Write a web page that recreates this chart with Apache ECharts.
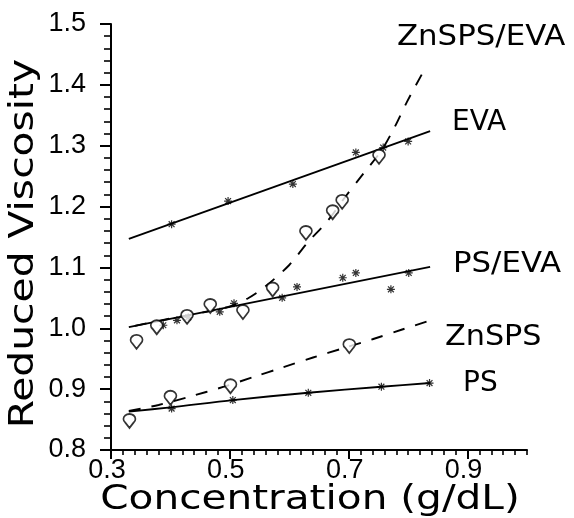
<!DOCTYPE html>
<html>
<head>
<meta charset="utf-8">
<script src="https://cdn.jsdelivr.net/npm/echarts@6/dist/echarts.min.js"></script>
<style>
html,body{margin:0;padding:0;background:#fff;}
#chart{width:574px;height:518px;}
</style>
</head>
<body>
<div id="chart"></div>
<script>
// ---- data ----
const xTickLabels = [0.3, 0.5, 0.7, 0.9];
const yTickLabels = [0.8, 0.9, 1.0, 1.1, 1.2, 1.3, 1.4, 1.5];

const evaPoints = [[0.402,1.171],[0.497,1.209],[0.606,1.237],[0.712,1.289],[0.758,1.297],[0.800,1.307]];
const evaFit = [[0.33,1.147],[0.837,1.324]];

const psevaPoints = [[0.388,1.005],[0.411,1.013],[0.430,1.018],[0.483,1.027],[0.507,1.041],[0.588,1.050],[0.613,1.068],[0.690,1.083],[0.712,1.091],[0.771,1.064],[0.801,1.091]];
const psevaFit = [[0.33,1.002],[0.837,1.101]];

const znspsevaPoints = [[0.343,0.981],[0.377,1.005],[0.428,1.022],[0.467,1.040],[0.522,1.030],[0.572,1.067],[0.628,1.160],[0.673,1.194],[0.689,1.211],[0.751,1.285]];
const znspsevaFit = [[0.34,1.004],[0.40,1.016],[0.45,1.025],[0.50,1.036],[0.53,1.049],[0.56,1.069],[0.60,1.104],[0.63,1.140],[0.665,1.177],[0.695,1.217],[0.723,1.252],[0.755,1.292],[0.777,1.330],[0.798,1.372],[0.828,1.426]];

const znspsPoints = [[0.331,0.851],[0.400,0.889],[0.501,0.908],[0.701,0.974]];
const znspsFit = [[0.33,0.864],[0.38,0.874],[0.43,0.887],[0.49,0.904],[0.54,0.920],[0.59,0.936],[0.64,0.952],[0.69,0.967],[0.74,0.982],[0.79,0.998],[0.837,1.013]];

const psPoints = [[0.402,0.868],[0.505,0.882],[0.632,0.894],[0.755,0.904],[0.836,0.910]];
const psFit = [[0.33,0.863],[0.40,0.870],[0.505,0.882],[0.632,0.894],[0.755,0.904],[0.837,0.910]];

const seriesNames = ['ZnSPS/EVA','EVA','PS/EVA','ZnSPS','PS'];

// ---- styling ----
const STAR = 'path://M-5,-0.75L5,-0.75L5,0.75L-5,0.75Z M-0.75,-5L0.75,-5L0.75,5L-0.75,5Z M-4.2,-3.1L-3.1,-4.2L4.2,3.1L3.1,4.2Z M3.1,-4.2L4.2,-3.1L-3.1,4.2L-4.2,3.1Z';
const PIN = 'path://M0,9L-3.5,3.6A5,5 0 1 1 3.5,3.6Z';
const numFont = 'Liberation Sans';
const txtFont = '"DejaVu Sans"';

function fitLine(name, data, dashed){
  return {type:'line', name:name, data:data, showSymbol:false, smooth:data.length>2 ? 0.3 : false,
    xAxisIndex:0, yAxisIndex:0, silent:true, z:2,
    lineStyle:{color:'#000', width:1.9, type: dashed ? [12,11] : 'solid'}};
}
function stars(name, data){
  return {type:'scatter', name:name, data:data, symbol:STAR, symbolSize:8, z:4,
    itemStyle:{color:'#000'}};
}
function pins(name, data){
  return {type:'scatter', name:name, data:data, symbol:PIN, symbolSize:[12,14], symbolOffset:[0,2], z:5,
    itemStyle:{color:'#fff', borderColor:'#000', borderWidth:1.8}};
}

const chart = echarts.init(document.getElementById('chart'), null, {renderer:'canvas'});
const option = {
  animation:false,
  backgroundColor:'#fff',
  grid:{left:111, right:47, top:24, bottom:68},
  xAxis:[{
    type:'value', min:0.3, max:1.0, interval:0.2,
    axisLine:{show:true, lineStyle:{color:'#000', width:2}},
    axisTick:{show:true, inside:false, length:9, lineStyle:{color:'#000', width:2}},
    axisLabel:{color:'#000', fontFamily:numFont, fontSize:27, margin:7, showMaxLabel:false,
      padding:[0,8,0,0],
      formatter:function(v){ return xTickLabels.some(t=>Math.abs(t-v)<1e-6) ? v.toFixed(1) : ''; }},
    splitLine:{show:false}
  },{
    type:'value', min:0.3, max:1.0, interval:0.02, gridIndex:0, position:'bottom',
    axisLine:{show:false},
    axisTick:{show:true, length:5, lineStyle:{color:'#000', width:1.6}},
    axisLabel:{show:false},
    splitLine:{show:false}
  }],
  yAxis:[{
    type:'value', min:0.8, max:1.5, interval:0.1,
    axisLine:{show:true, lineStyle:{color:'#000', width:2}},
    axisTick:{show:true, length:11, lineStyle:{color:'#000', width:2}},
    minorTick:{show:true, splitNumber:5, length:7, lineStyle:{color:'#000', width:1.6}},
    axisLabel:{color:'#000', fontFamily:numFont, fontSize:27, margin:25,
      formatter:function(v){ return yTickLabels.some(t=>Math.abs(t-v)<1e-6) ? v.toFixed(1) : ''; }},
    splitLine:{show:false}
  }],
  series:[
    fitLine('EVA', evaFit, false),
    fitLine('PS/EVA', psevaFit, false),
    fitLine('ZnSPS/EVA', znspsevaFit, true),
    fitLine('ZnSPS', znspsFit, true),
    fitLine('PS', psFit, false),
    stars('EVA', evaPoints),
    stars('PS/EVA', psevaPoints),
    stars('PS', psPoints),
    pins('ZnSPS/EVA', znspsevaPoints),
    pins('ZnSPS', znspsPoints)
  ],
  graphic:[
    {type:'text', x:397, y:38, scaleX:1.1, style:{text:seriesNames[0], font:'28px '+txtFont, fill:'#000', align:'left', verticalAlign:'middle'}},
    {type:'text', x:452, y:123, scaleX:1.0, style:{text:seriesNames[1], font:'28px '+txtFont, fill:'#000', align:'left', verticalAlign:'middle'}},
    {type:'text', x:453, y:265, scaleX:1.1, style:{text:seriesNames[2], font:'28px '+txtFont, fill:'#000', align:'left', verticalAlign:'middle'}},
    {type:'text', x:445, y:338, scaleX:1.08, style:{text:seriesNames[3], font:'28px '+txtFont, fill:'#000', align:'left', verticalAlign:'middle'}},
    {type:'text', x:463, y:384, scaleX:1.0, style:{text:seriesNames[4], font:'28px '+txtFont, fill:'#000', align:'left', verticalAlign:'middle'}},
    {type:'text', x:310, y:500, scaleX:1.23, style:{text:'Concentration (g/dL)', font:'33px '+txtFont, fill:'#000', align:'center', verticalAlign:'middle'}},
    {type:'text', x:24.5, y:243.5, rotation:Math.PI/2, scaleX:1.2, style:{text:'Reduced Viscosity', font:'34px '+txtFont, fill:'#000', align:'center', verticalAlign:'middle'}}
  ]
};
chart.setOption(option);
</script>
</body>
</html>
